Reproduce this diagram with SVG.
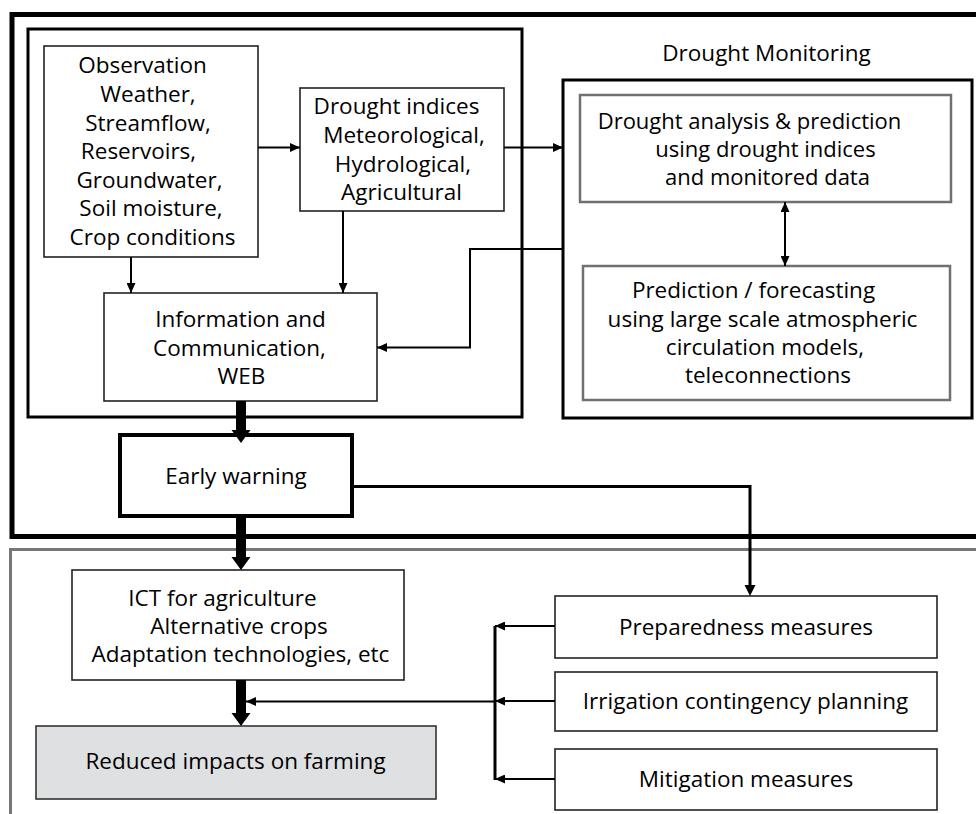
<svg xmlns="http://www.w3.org/2000/svg" width="976" height="814" viewBox="0 0 976 814">
<defs>
<style>
.t{font-family:"Open Sans","Noto Sans","Liberation Sans",sans-serif;font-size:22.5px;fill:#000;text-anchor:middle}
.s{font-size:22px}
.box{fill:#fff;stroke:#222;stroke-width:1.6}
.gbox{fill:#fff;stroke:#707070;stroke-width:2.5}
.ln{fill:none;stroke:#000;stroke-width:2}
.bus{fill:none;stroke:#000;stroke-width:3}
.thick{fill:#000;stroke:none}
</style>
<marker id="ah" markerUnits="userSpaceOnUse" markerWidth="11" markerHeight="9" refX="10" refY="4.5" orient="auto">
<path d="M0,0 L10,4.5 L0,9 z" fill="#000"/>
</marker>
<marker id="ahs" markerUnits="userSpaceOnUse" markerWidth="11" markerHeight="9" refX="0" refY="4.5" orient="auto">
<path d="M10,0 L0,4.5 L10,9 z" fill="#000"/>
</marker>
</defs>
<rect width="976" height="814" fill="#fff"/>

<g id="frames">
<rect x="10.5" y="549.5" width="1000" height="400" fill="none" stroke="#777" stroke-width="3"/>
<rect x="12" y="14.5" width="1000" height="522" fill="none" stroke="#000" stroke-width="5"/>
<rect x="28" y="29" width="494" height="388" fill="none" stroke="#000" stroke-width="3"/>
</g>

<g id="drought-monitoring">
<rect x="563" y="80" width="409" height="338" fill="#fff" stroke="#000" stroke-width="3"/>
<text class="t" x="766.5" y="60.5">Drought Monitoring</text>
</g>

<g id="observation">
<rect class="box" x="44" y="46" width="214" height="211"/>
<text class="t" x="142.5" y="73.3">Observation</text>
<text class="t" x="148" y="102">Weather,</text>
<text class="t" x="148" y="130.5">Streamflow,</text>
<text class="t" x="138.5" y="159">Reservoirs,</text>
<text class="t" x="149.5" y="187.5">Groundwater,</text>
<text class="t" x="151" y="216">Soil moisture,</text>
<text class="t" x="152.5" y="244.5">Crop conditions</text>
</g>

<g id="drought-indices">
<rect class="box" x="300" y="88" width="204" height="123"/>
<text class="t" x="396.5" y="114.3">Drought indices</text>
<text class="t" x="404" y="142.7">Meteorological,</text>
<text class="t" x="403" y="171.5">Hydrological,</text>
<text class="t" x="401.5" y="200">Agricultural</text>
</g>

<g id="information">
<rect class="box" x="104" y="293" width="273" height="108"/>
<text class="t" x="240.5" y="327.3">Information and</text>
<text class="t" x="239.5" y="356">Communication,</text>
<text class="t" x="241.5" y="384">WEB</text>
</g>

<g id="analysis">
<rect class="gbox" x="580" y="95" width="371" height="107"/>
<text class="t s" x="749.5" y="128.5">Drought analysis &amp; prediction</text>
<text class="t s" x="765.5" y="157">using drought indices</text>
<text class="t s" x="767.5" y="185">and monitored data</text>
</g>

<g id="forecasting">
<rect class="gbox" x="583" y="266" width="367" height="134"/>
<text class="t" x="753.5" y="298.3">Prediction / forecasting</text>
<text class="t" x="762.5" y="326.7">using large scale atmospheric</text>
<text class="t" x="765" y="355">circulation models,</text>
<text class="t" x="768" y="383.3">teleconnections</text>
</g>

<g id="early-warning">
<rect x="120" y="435" width="232" height="81" fill="#fff" stroke="#000" stroke-width="4"/>
<text class="t" x="236" y="484">Early warning</text>
</g>

<g id="ict">
<rect class="box" x="72" y="570" width="332" height="110"/>
<text class="t" x="222.5" y="605.7">ICT for agriculture</text>
<text class="t" x="239" y="634">Alternative crops</text>
<text class="t" x="240.5" y="662.3">Adaptation technologies, etc</text>
</g>

<g id="reduced-impacts">
<rect x="36" y="726" width="400" height="73" fill="#dfe0e2" stroke="#333" stroke-width="1.6"/>
<text class="t" x="235.5" y="769.3">Reduced impacts on farming</text>
</g>

<g id="preparedness">
<rect class="box" x="555" y="596" width="382" height="62"/>
<text class="t" x="746" y="635">Preparedness measures</text>
</g>

<g id="irrigation">
<rect class="box" x="555" y="672" width="382" height="59"/>
<text class="t" x="745.5" y="709">Irrigation contingency planning</text>
</g>

<g id="mitigation">
<rect class="box" x="555" y="749" width="382" height="61"/>
<text class="t" x="746" y="786.7">Mitigation measures</text>
</g>

<g id="connectors">
<line class="ln" x1="258" y1="147.5" x2="300" y2="147.5" marker-end="url(#ah)"/>
<line class="ln" x1="504" y1="147.5" x2="563" y2="147.5" marker-end="url(#ah)"/>
<line class="ln" x1="131" y1="257" x2="131" y2="293" marker-end="url(#ah)"/>
<line class="ln" x1="343" y1="211" x2="343" y2="293" marker-end="url(#ah)"/>
<path class="ln" d="M563,249 H470 V347.5 H377" marker-end="url(#ah)"/>
<line class="ln" x1="785" y1="202" x2="785" y2="266" marker-start="url(#ahs)" marker-end="url(#ah)"/>
<polygon class="thick" points="236,401 246,401 246,430 250.5,430 241,443 231.5,430 236,430"/>
<path class="bus" d="M352,486.5 H750 V586"/>
<path d="M744.5,585 L755.5,585 L750,596 z" fill="#000"/>
<polygon class="thick" points="236,516 246,516 246,557 250.5,557 241,570 231.5,557 236,557"/>
<polygon class="thick" points="236,680 246,680 246,713 250.5,713 241,726 231.5,713 236,713"/>
<line class="bus" x1="495" y1="626" x2="495" y2="780"/>
<line class="ln" x1="555" y1="626" x2="495" y2="626" marker-end="url(#ah)"/>
<line class="ln" x1="555" y1="701" x2="495" y2="701" marker-end="url(#ah)"/>
<line class="ln" x1="555" y1="779" x2="495" y2="779" marker-end="url(#ah)"/>
<line class="ln" x1="495" y1="701.5" x2="246" y2="701.5" marker-end="url(#ah)"/>
</g>
</svg>
